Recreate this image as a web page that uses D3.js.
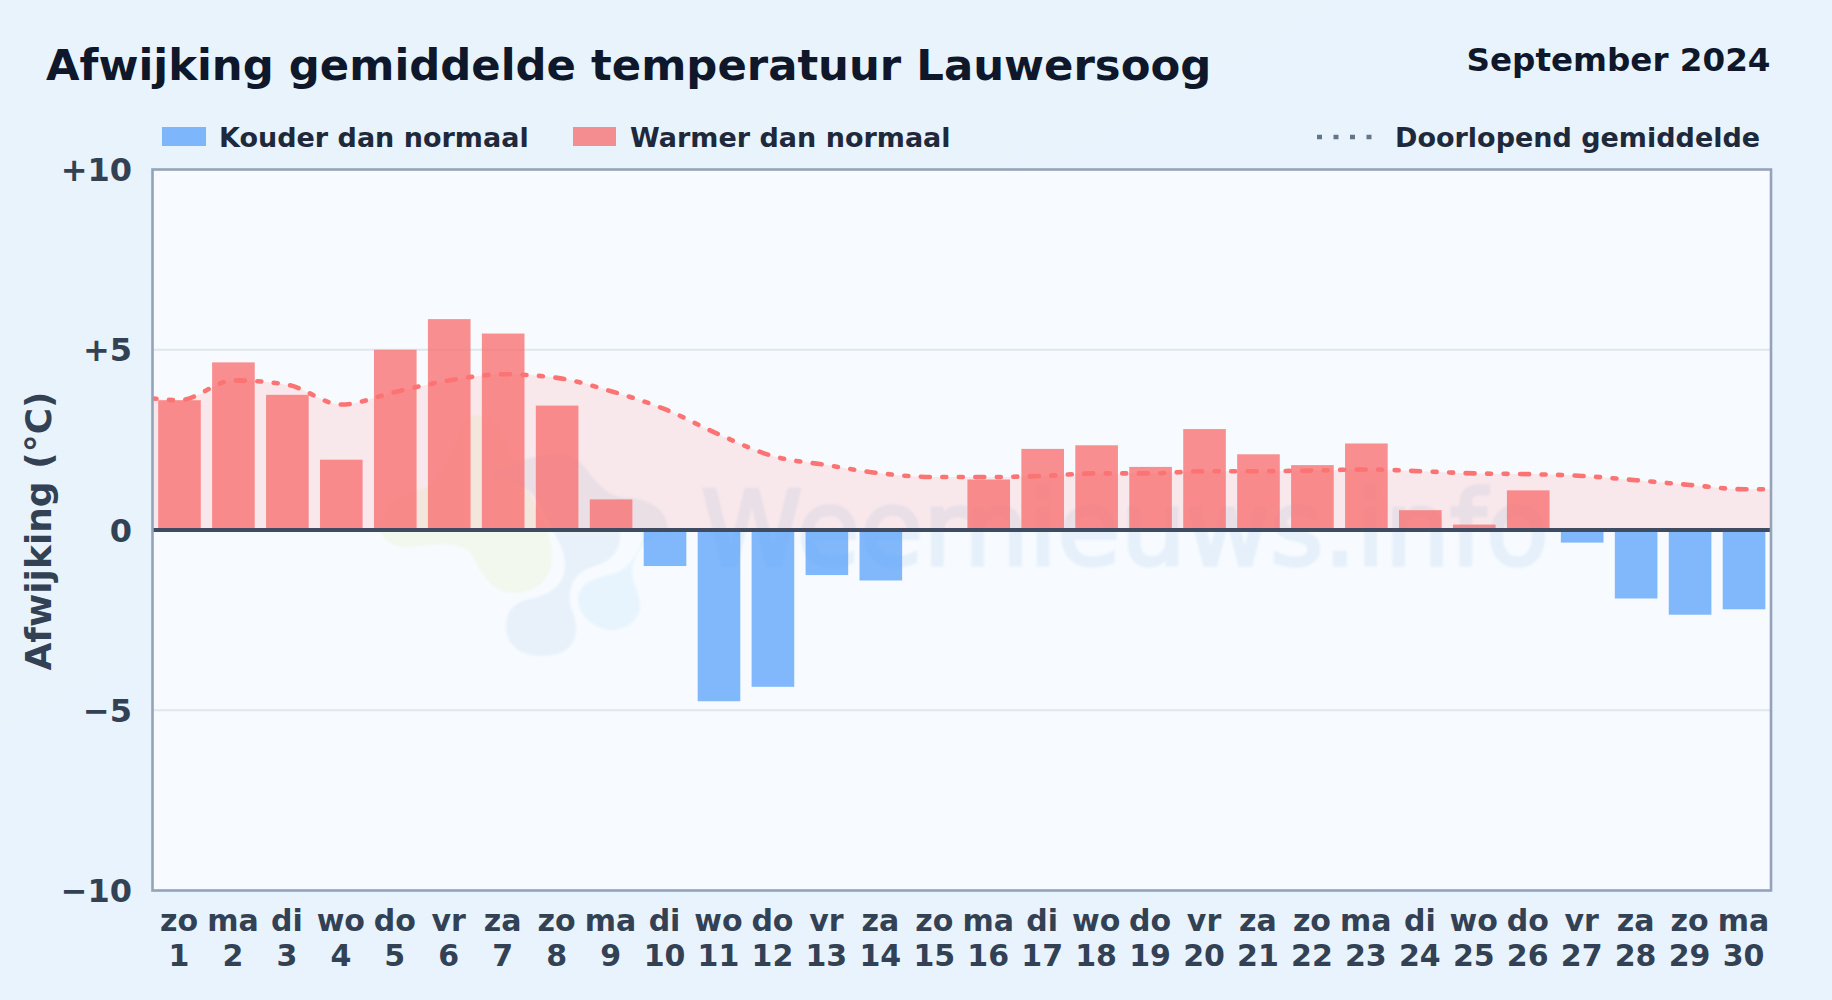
<!DOCTYPE html>
<html><head><meta charset="utf-8">
<script src="https://cdn.jsdelivr.net/npm/d3@7"></script>
<style>
html,body{margin:0;padding:0;background:#e8f3fc;}
text{font-family:"DejaVu Sans",sans-serif;font-weight:700;}
</style></head><body>
<svg id="c" width="1832" height="1000" style="display:block"></svg>
<script>
const weekdays=["zo","ma","di","wo","do","vr","za","zo","ma","di","wo","do","vr","za","zo","ma","di","wo","do","vr","za","zo","ma","di","wo","do","vr","za","zo","ma"];
const days=d3.range(1,31);
const anomalies=[3.6,4.65,3.75,1.95,5.0,5.85,5.45,3.45,0.85,-1.0,-4.75,-4.35,-1.25,-1.4,0,1.4,2.25,2.35,1.75,2.8,2.1,1.8,2.4,0.55,0.15,1.1,-0.35,-1.9,-2.35,-2.2];
const meanDays=[0.5].concat(days,[30.5]);
const meanValues=[3.65,3.6,4.15,4.03,3.48,3.83,4.15,4.32,4.22,3.85,3.35,2.65,2.05,1.8,1.57,1.47,1.47,1.5,1.57,1.57,1.63,1.63,1.65,1.68,1.63,1.57,1.55,1.5,1.38,1.25,1.13,1.13];
const yTicks=[10,5,0,-5,-10];
const yLabels=["+10","+5","0","−5","−10"];
const title="Afwijking gemiddelde temperatuur Lauwersoog";
const period="September 2024";
const legendCold="Kouder dan normaal", legendWarm="Warmer dan normaal", legendMean="Doorlopend gemiddelde";
const yTitle="Afwijking (°C)";
const watermark="Weernieuws.info";

const P={l:152.5,r:1771,t:169.5,b:890.5};
const svg=d3.select("#c");
const defs=svg.append("defs");
const g=defs.append("linearGradient").attr("id","bg").attr("x1",0).attr("y1",0).attr("x2",1).attr("y2",1);
g.append("stop").attr("offset","0%").attr("stop-color","#e8f3fc");
g.append("stop").attr("offset","100%").attr("stop-color","#e9f3fd");
defs.append("clipPath").attr("id","clip").append("rect").attr("x",P.l).attr("y",P.t).attr("width",P.r-P.l).attr("height",P.b-P.t);
defs.append("filter").attr("id","soft").append("feGaussianBlur").attr("stdDeviation",0.8);
svg.append("rect").attr("width",1832).attr("height",1000).attr("fill","url(#bg)");
svg.append("rect").attr("x",P.l).attr("y",P.t).attr("width",P.r-P.l).attr("height",P.b-P.t).attr("fill","#f7fbff");

const x=d3.scaleBand().domain(days).range([P.l,P.r]).paddingInner(0.21).paddingOuter(0.105);
const xl=d3.scaleLinear().domain([0.5,30.5]).range([P.l,P.r]);
const y=d3.scaleLinear().domain([-10,10]).range([P.b,P.t]);

// gridlines
svg.append("g").selectAll("line").data(yTicks.filter(t=>Math.abs(t)==5)).join("line")
 .attr("x1",P.l).attr("x2",P.r).attr("y1",d=>y(d)).attr("y2",d=>y(d)).attr("stroke","#dfe7ec").attr("stroke-width",2);

// watermark
const wm=svg.append("g").attr("clip-path","url(#clip)").attr("filter","url(#soft)");
wm.append("path").attr("fill","#f2f8ee")
 .attr("d","M380 525 C385 505 405 492 425 488 C445 480 455 440 465 420 C480 405 500 425 510 450 C520 480 540 510 550 540 C558 570 545 590 517 593 C490 595 480 570 470 552 C455 540 430 545 410 547 C395 548 378 540 380 525Z");
wm.append("path").attr("fill","#e8f1f9")
 .attr("d","M506 627 C506 610 515 602 530 599 C550 595 565 585 565 565 C565 545 550 530 540 505 C530 485 510 478 490 478 C500 465 555 445 575 458 C590 468 595 490 620 497 C650 497 668 510 668 530 L620 530 C622 550 612 562 590 568 C572 573 566 595 572 610 C582 635 574 656 542 656 C520 656 506 645 506 627Z");
wm.append("path").attr("fill","#e8f4fd")
 .attr("d","M578 597 C580 585 590 580 600 577 C615 574 625 570 632 560 C640 548 645 540 640 530 L665 530 C650 535 635 550 632 570 C632 585 642 595 640 610 C636 625 620 632 607 630 C590 626 576 612 578 597Z");
wm.append("text").attr("x",701).attr("y",565).attr("font-size",104).attr("textLength",848).attr("lengthAdjust","spacingAndGlyphs")
 .style("font-weight",400).attr("fill","#e6f0fa").attr("stroke","#e6f0fa").attr("stroke-width",3.5).text(watermark);

// area and mean line
const curve=d3.curveMonotoneX;
const ma=meanDays.map((d,i)=>[d,meanValues[i]]);
svg.append("path").datum(ma).attr("fill","#ff6b6b").attr("fill-opacity",.13)
 .attr("d",d3.area().x(d=>xl(d[0])).y0(y(0)).y1(d=>y(d[1])).curve(curve));

// bars
svg.append("g").selectAll("rect").data(days.map((d,i)=>({d,v:anomalies[i]})).filter(e=>e.v!==0)).join("rect")
 .attr("x",e=>x(e.d)).attr("width",x.bandwidth())
 .attr("y",e=>y(Math.max(0,e.v))).attr("height",e=>Math.abs(y(e.v)-y(0)))
 .attr("fill",e=>e.v>0?"#f87171":"#60a5fa").attr("fill-opacity",.79);

svg.append("path").datum(ma).attr("fill","none").attr("stroke","#fb7373").attr("stroke-width",4.6)
 .attr("stroke-dasharray","4 12.5 4 12.5 9 12.5").attr("stroke-linecap","round").attr("clip-path","url(#clip)")
 .attr("d",d3.line().x(d=>xl(d[0])).y(d=>y(d[1])).curve(curve));

// zero line and frame
svg.append("line").attr("x1",P.l).attr("x2",P.r).attr("y1",y(0)).attr("y2",y(0)).attr("stroke","#3f4b60").attr("stroke-width",3.8);
svg.append("rect").attr("x",P.l).attr("y",P.t).attr("width",P.r-P.l).attr("height",P.b-P.t).attr("fill","none").attr("stroke","#94a3b8").attr("stroke-width",2.6);

// y axis labels
svg.append("g").selectAll("text").data(yTicks).join("text")
 .attr("x",132).attr("y",d=>y(d)+11.5).attr("text-anchor","end").attr("font-size",32).attr("fill","#334155")
 .text((d,i)=>yLabels[i]);
svg.append("text").attr("transform",`translate(51,531) rotate(-90)`).attr("text-anchor","middle").attr("font-size",36).attr("fill","#334155").text(yTitle);

// x labels
const xg=svg.append("g").attr("text-anchor","middle").attr("font-size",30).attr("fill","#334155");
xg.selectAll("text.w").data(days).join("text").attr("class","w").attr("x",d=>xl(d)-0.5).attr("y",931).text((d,i)=>weekdays[i]);
xg.selectAll("text.d").data(days).join("text").attr("class","d").attr("x",d=>xl(d)-0.5).attr("y",965.5).text(d=>d);

// title
svg.append("text").attr("x",46).attr("y",80).attr("font-size",43.35).attr("fill","#0f172a").text(title);
svg.append("text").attr("x",1770.5).attr("y",71).attr("text-anchor","end").attr("font-size",32.6).attr("fill","#0f172a").text(period);

// legend
const lg=svg.append("g");
lg.append("rect").attr("x",162).attr("y",127).attr("width",44).attr("height",19).attr("fill","#60a5fa").attr("fill-opacity",.79);
lg.append("text").attr("x",219).attr("y",147).attr("font-size",27).attr("fill","#1e293b").text(legendCold);
lg.append("rect").attr("x",573).attr("y",127).attr("width",43).attr("height",19).attr("fill","#f87171").attr("fill-opacity",.79);
lg.append("text").attr("x",630).attr("y",147).attr("font-size",27).attr("fill","#1e293b").text(legendWarm);
lg.append("line").attr("x1",1317).attr("x2",1376).attr("y1",137).attr("y2",137).attr("stroke","#64748b").attr("stroke-width",4.5).attr("stroke-dasharray","5 11.5");
lg.append("text").attr("x",1395).attr("y",147).attr("font-size",27).attr("fill","#1e293b").text(legendMean);
</script></body></html>
